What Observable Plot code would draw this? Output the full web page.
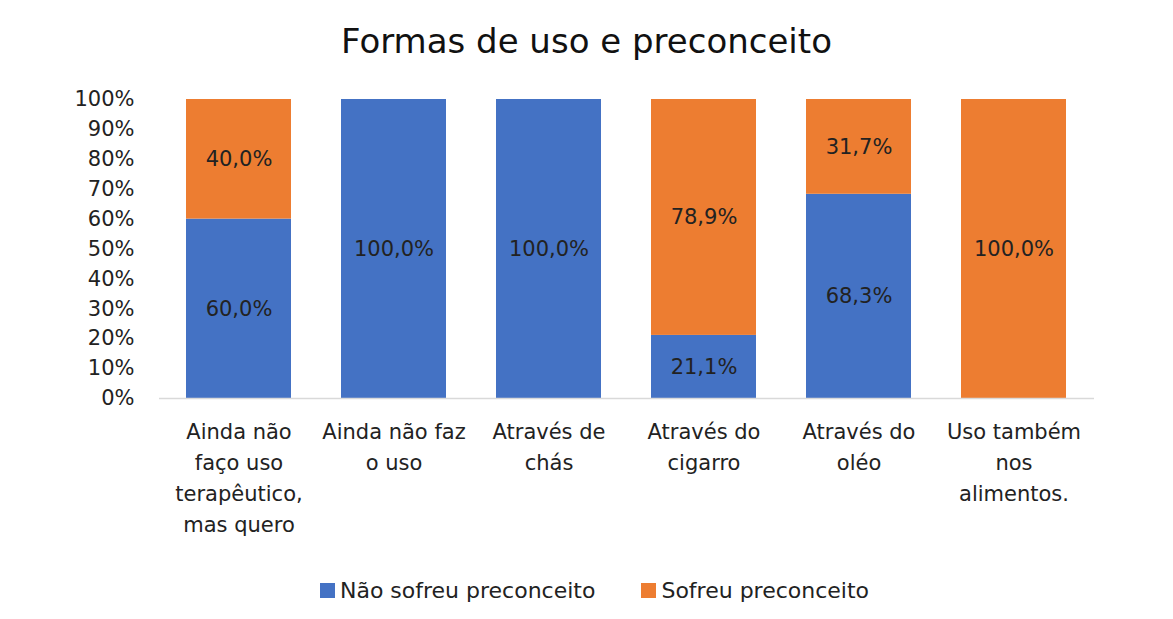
<!DOCTYPE html>
<html>
<head>
<meta charset="utf-8">
<script src="https://cdn.jsdelivr.net/npm/d3@7"></script>
<script src="https://cdn.jsdelivr.net/npm/@observablehq/plot@0.6"></script>
<style>
  html, body { margin: 0; padding: 0; background: #fff; }
  body { width: 1173px; height: 619px; overflow: hidden; font-family: "DejaVu Sans", sans-serif; color: #222; }
  #title { height: 80px; line-height: 82px; text-align: center; font-size: 34px; color: #111; }
  #chart { height: 475px; }
  #legend { height: 70px; display: flex; justify-content: center; align-items: center; gap: 46px; font-size: 22px; color: #222; padding-left: 16px; }
  .item { display: flex; align-items: center; gap: 5px; }
  .sw { width: 15px; height: 15px; display: inline-block; }
</style>
</head>
<body>
<div id="title">Formas de uso e preconceito</div>
<div id="chart"></div>
<div id="legend"></div>
<script>
const categories = [
  "Ainda não\nfaço uso\nterapêutico,\nmas quero",
  "Ainda não faz\no uso",
  "Através de\nchás",
  "Através do\ncigarro",
  "Através do\noléo",
  "Uso também\nnos\nalimentos."
];
const seriesNames = ["Não sofreu preconceito", "Sofreu preconceito"];
const naoSofreu = [60.0, 100.0, 100.0, 21.1, 68.3, 0.0];
const sofreu = [40.0, 0.0, 0.0, 78.9, 31.7, 100.0];
const colors = ["#4472C4", "#ED7D31"];
const yTicks = [0, 10, 20, 30, 40, 50, 60, 70, 80, 90, 100];

const rows = [];
categories.forEach((c, i) => {
  const a = naoSofreu[i], b = sofreu[i];
  rows.push({cat: c, series: seriesNames[0], v: a, y1: 0, y2: a});
  rows.push({cat: c, series: seriesNames[1], v: b, y1: a, y2: a + b});
});
const labels = rows.filter(d => d.v > 0).map(d => ({...d, mid: (d.y1 + d.y2) / 2}));
const fmt = v => v.toFixed(1).replace(".", ",") + "%";

const plot = Plot.plot({
  width: 1173,
  height: 475,
  marginTop: 19,
  marginBottom: 157,
  marginLeft: 159,
  marginRight: 79,
  style: {fontFamily: "DejaVu Sans, sans-serif", fontSize: "21px", color: "#222", background: "#fff"},
  x: {domain: categories, paddingInner: 0.32, paddingOuter: 0.16, label: null},
  y: {domain: [0, 100], label: null},
  color: {domain: seriesNames, range: colors},
  marks: [
    Plot.axisY({ticks: yTicks, tickFormat: d => d + "%", tickSize: 0, tickPadding: 25, fontSize: 21, label: null}),
    Plot.axisX({tickSize: 0, tickPadding: 18, fontSize: 21, lineHeight: 1.48, label: null}),
    Plot.barY(rows, {x: "cat", y1: "y1", y2: "y2", fill: "series"}),
    Plot.ruleY([0], {stroke: "#d9d9d9", strokeWidth: 1.5}),
    Plot.text(labels, {x: "cat", y: "mid", text: d => fmt(d.v), fill: "#222", fontSize: 21})
  ]
});
document.getElementById("chart").appendChild(plot);

const legend = document.getElementById("legend");
seriesNames.forEach((s, i) => {
  const it = document.createElement("div");
  it.className = "item";
  it.innerHTML = `<span class="sw" style="background:${colors[i]}"></span><span>${s}</span>`;
  legend.appendChild(it);
});
</script>
</body>
</html>
